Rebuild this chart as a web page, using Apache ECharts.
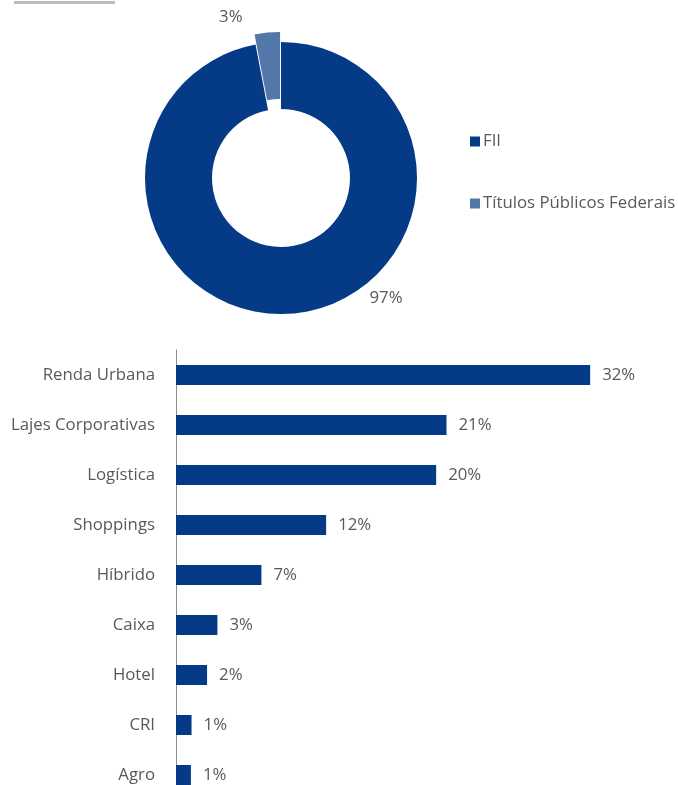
<!DOCTYPE html>
<html><head><meta charset="utf-8">
<script src="https://cdn.jsdelivr.net/npm/echarts@6/dist/echarts.min.js"></script>
<style>html,body{margin:0;padding:0;background:#fff}#c{width:678px;height:785px}</style>
</head><body><div id="c"></div>
<script>
const pieNames = ['FII', 'Títulos Públicos Federais'];
const pieValues = [97, 3];
const pieColors = ['#053a86', '#5477aa'];
const barCategories = ['Renda Urbana','Lajes Corporativas','Logística','Shoppings','Híbrido','Caixa','Hotel','CRI','Agro'];
const barValues = [32.0, 20.9, 20.1, 11.6, 6.6, 3.2, 2.4, 1.2, 1.15];
const barLabels = ['32%','21%','20%','12%','7%','3%','2%','1%','1%'];

const FONT = 'Open Sans';
const TXT = '#595959';
const FS = 16.8;
const chart = echarts.init(document.getElementById('c'), null, {renderer:'canvas'});
chart.setOption({
  animation: false,
  textStyle: {fontFamily: FONT},
  graphic: [{type:'rect', shape:{x:14, y:1, width:101, height:3}, style:{fill:'#bdbdbd'}}],
  legend: {
    data: pieNames, orient: 'vertical', left: 465, top: 128,
    itemWidth: 10, itemHeight: 10, itemGap: 45, icon: 'rect',
    textStyle: {color: TXT, fontSize: FS, fontFamily: FONT, padding: [0,0,0,-2]}
  },
  grid: {left: 176, right: 49, top: 350, height: 450, outerBoundsMode: 'none', containLabel: false},
  xAxis: {type:'value', min:0, max:35, show:false},
  yAxis: {type:'category', data: barCategories, inverse: true,
    axisLine: {show:true, lineStyle:{color:'#8c8c8c', width:1}},
    axisTick: {show:false},
    axisLabel: {color: TXT, fontSize: FS, margin: 21, fontFamily: FONT}
  },
  series: [
    {
      type: 'pie', center: [281, 178], radius: [69, 136],
      startAngle: 90, clockwise: true,
      selectedMode: 'single', selectedOffset: 10,
      emphasis: {disabled: true},
      labelLine: {show: false},
      label: {show: true, position: 'outside', color: TXT, fontSize: FS, fontFamily: FONT,
        formatter: p => p.value + '%'},
      labelLayout: function (p) {
        if (p.dataIndex === 1) return {x: 262, y: 18, align: 'center', verticalAlign: 'middle'};
        return {x: 386, y: 298, align: 'center', verticalAlign: 'middle'};
      },
      data: pieNames.map((n, i) => ({name: n, value: pieValues[i], selected: i === 1,
        itemStyle: {color: pieColors[i]}}))
    },
    {
      type: 'bar', data: barValues, barWidth: 20,
      itemStyle: {color: '#053a86'},
      label: {show: true, position: 'right', distance: 12, color: TXT, fontSize: FS, fontFamily: FONT,
        formatter: p => barLabels[p.dataIndex]}
    }
  ]
});
</script></body></html>
